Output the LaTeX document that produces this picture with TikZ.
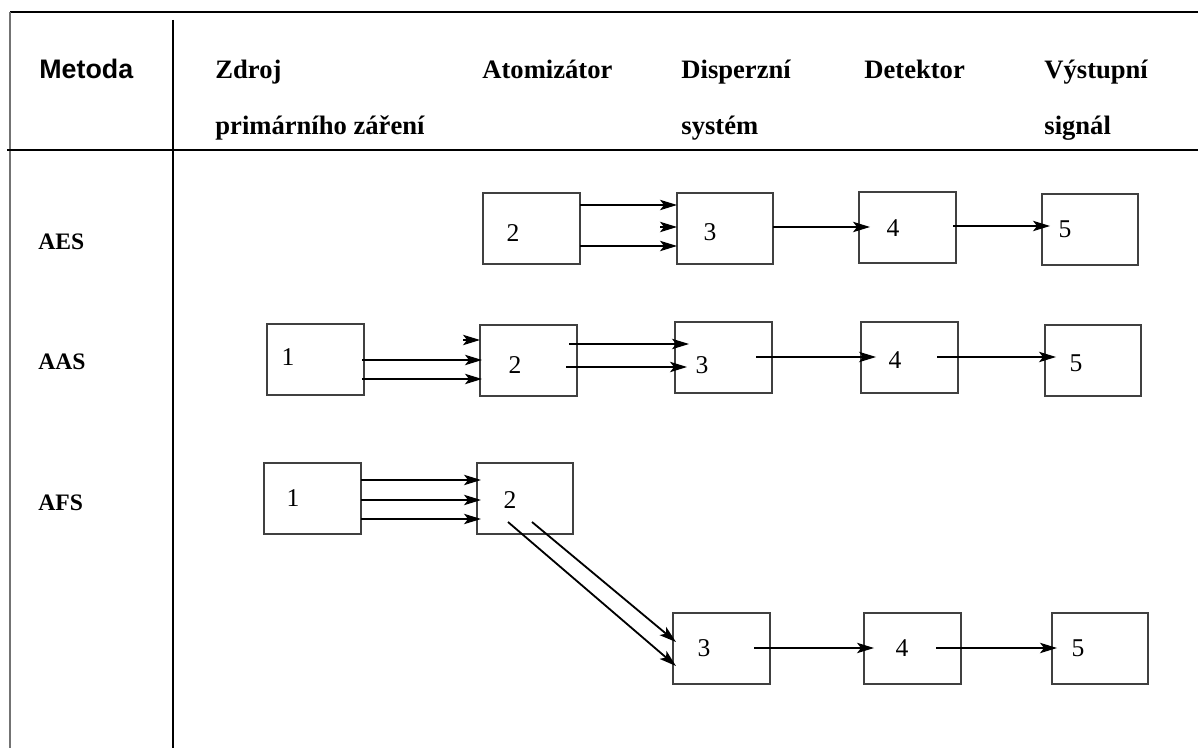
\documentclass[tikz,border=0pt]{standalone}
\usepackage{fontspec}
\setmainfont{Liberation Serif}
\setsansfont{Liberation Sans}
\usetikzlibrary{arrows.meta,fit,calc}
\begin{document}
\begin{tikzpicture}[x=0.5pt,y=-0.5pt,
  box/.style={draw=black!75, line width=0.65pt, inner sep=0pt, outer sep=0pt},
  num/.style={font=\fontsize{12.8}{14}\selectfont, inner sep=0pt},
  head/.style={font=\bfseries\fontsize{13.3}{15}\selectfont, anchor=base west, inner sep=0pt},
  rowlab/.style={font=\bfseries\fontsize{11.8}{14}\selectfont, anchor=base west, inner sep=0pt},
  arr/.style={-{Stealth[length=8.5pt,width=5.2pt,inset=2pt]}, line width=0.6pt},
  tip/.style={-{Stealth[length=8.5pt,width=5.2pt,inset=2pt]}, line width=0.6pt}]
\useasboundingbox (0,0) rectangle (1198,748);
% table rules
\draw[line width=0.6pt] (10,12) -- (1198,12);
\draw[line width=0.8pt, black!55] (10,12) -- (10,748);
\draw[line width=1pt] (173,20) -- (173,748);
\draw[line width=0.7pt] (7,150) -- (1198,150);
% headers
\node[head, font=\sffamily\bfseries\fontsize{13.4}{15}\selectfont] (hm) at (39,79) {Metoda};
\node[head] (h1a) at (215,79) {Zdroj};
\node[head] (h1b) at (215,135) {primárního záření};
\node[head] (h2) at (482,79) {Atomizátor};
\node[head] (h3a) at (681,79) {Disperzní};
\node[head] (h3b) at (681,135) {systém};
\node[head] (h4) at (864,79) {Detektor};
\node[head] (h5a) at (1044,79) {Výstupní};
\node[head] (h5b) at (1044,135) {signál};
% row labels
\node[rowlab] (raes) at (38,250) {AES};
\node[rowlab] (raas) at (38,370) {AAS};
\node[rowlab] (rafs) at (38,510) {AFS};
% AES boxes
\node[box, fit={(483,193) (580,264)}] (a2) {};
\node[box, fit={(677,193) (773,264)}] (a3) {};
\node[box, fit={(859,192) (956,263)}] (a4) {};
\node[box, fit={(1042,194) (1138,265)}] (a5) {};
\node[num] (a2t) at (513,233) {2};
\node[num] (a3t) at (710,232) {3};
\node[num] (a4t) at (893,228) {4};
\node[num] (a5t) at (1065,229) {5};
% AAS boxes
\node[box, fit={(267,324) (364,395)}] (b1) {};
\node[box, fit={(480,325) (577,396)}] (b2) {};
\node[box, fit={(675,322) (772,393)}] (b3) {};
\node[box, fit={(861,322) (958,393)}] (b4) {};
\node[box, fit={(1045,325) (1141,396)}] (b5) {};
\node[num] (b1t) at (288,357) {1};
\node[num] (b2t) at (515,365) {2};
\node[num] (b3t) at (702,365) {3};
\node[num] (b4t) at (895,360) {4};
\node[num] (b5t) at (1076,363) {5};
% AFS boxes
\node[box, fit={(264,463) (361,534)}] (c1) {};
\node[box, fit={(477,463) (573,534)}] (c2) {};
\node[box, fit={(673,613) (770,684)}] (c3) {};
\node[box, fit={(864,613) (961,684)}] (c4) {};
\node[box, fit={(1052,613) (1148,684)}] (c5) {};
\node[num] (c1t) at (293,498) {1};
\node[num] (c2t) at (510,500) {2};
\node[num] (c3t) at (704,648) {3};
\node[num] (c4t) at (902,648) {4};
\node[num] (c5t) at (1078,648) {5};
% AES arrows
\draw[arr] (a2.east |- 0,205) -- (a3.west |- 0,205);
\draw[tip] ($(a3.west |- 0,227)+(-17,0)$) -- (a3.west |- 0,227);
\draw[arr] (a2.east |- 0,246) -- (a3.west |- 0,246);
\draw[arr] (a3.east |- 0,227) -- ($(a4.west |- 0,227)+(11,0)$);
\draw[arr] ($(a4.east |- 0,226)+(-3,0)$) -- ($(a5.west |- 0,226)+(8,0)$);
% AAS arrows
\draw[tip] ($(b2.west |- 0,340)+(-17,0)$) -- (b2.west |- 0,340);
\draw[arr] ($(b1.east |- 0,360)+(-2,0)$) -- ($(b2.west |- 0,360)+(2,0)$);
\draw[arr] ($(b1.east |- 0,379)+(-2,0)$) -- ($(b2.west |- 0,379)+(2,0)$);
\draw[arr] ($(b2.east |- 0,344)+(-8,0)$) -- ($(b3.west |- 0,344)+(14,0)$);
\draw[arr] ($(b2.east |- 0,367)+(-11,0)$) -- ($(b3.west |- 0,367)+(12,0)$);
\draw[arr] ($(b3.east |- 0,357)+(-16,0)$) -- ($(b4.west |- 0,357)+(15,0)$);
\draw[arr] ($(b4.east |- 0,357)+(-21,0)$) -- ($(b5.west |- 0,357)+(11,0)$);
% AFS arrows
\draw[arr] (c1.east |- 0,480) -- ($(c2.west |- 0,480)+(4,0)$);
\draw[arr] (c1.east |- 0,500) -- ($(c2.west |- 0,500)+(4,0)$);
\draw[arr] (c1.east |- 0,519) -- ($(c2.west |- 0,519)+(4,0)$);
\draw[arr, line width=0.9pt] ($(c2.south west)+(31,-12)$) -- ($(c3.north west)+(3,53)$);
\draw[arr, line width=0.9pt] ($(c2.south west)+(55,-12)$) -- ($(c3.north west)+(3,29)$);
\draw[arr] ($(c3.east |- 0,648)+(-16,0)$) -- ($(c4.west |- 0,648)+(10,0)$);
\draw[arr] ($(c4.east |- 0,648)+(-25,0)$) -- ($(c5.west |- 0,648)+(5,0)$);
\end{tikzpicture}
\end{document}
